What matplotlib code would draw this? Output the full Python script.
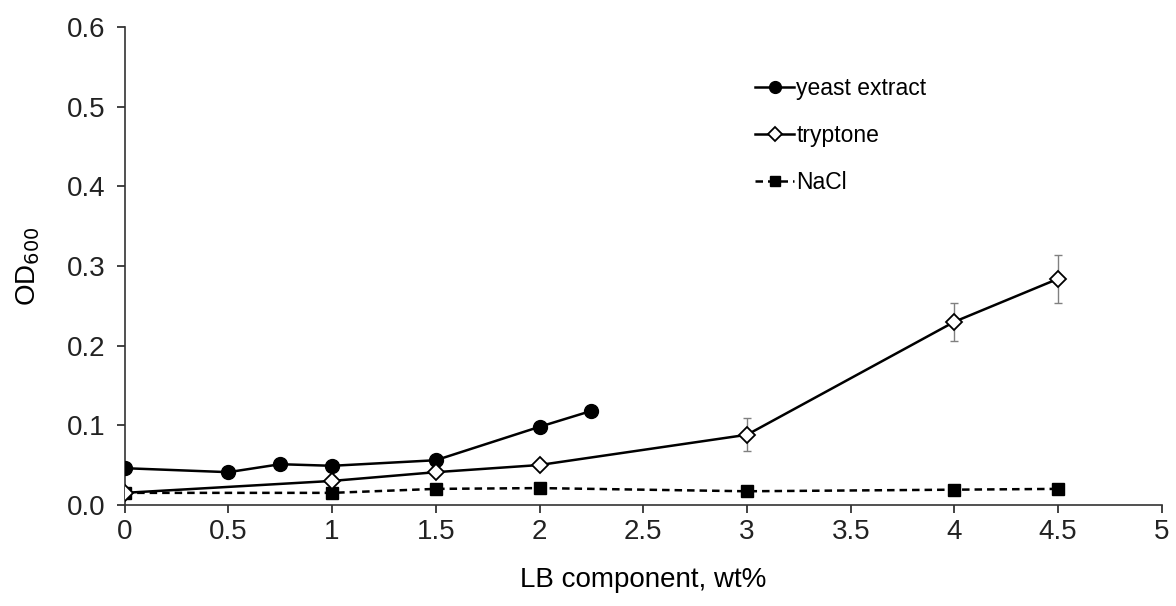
import numpy as np
import matplotlib.pyplot as plt

plt.rcParams['font.family'] = ['Liberation Sans', 'DejaVu Sans']

# data
yeast_x = [0, 0.5, 0.75, 1, 1.5, 2, 2.25]
yeast_y = [0.046, 0.041, 0.051, 0.049, 0.056, 0.098, 0.118]

tryp_x = [0, 1, 1.5, 2, 3, 4, 4.5]
tryp_y = [0.015, 0.030, 0.041, 0.050, 0.088, 0.230, 0.284]
tryp_err = [0, 0, 0, 0, 0.021, 0.024, 0.030]

nacl_x = [0, 1, 1.5, 2, 3, 4, 4.5]
nacl_y = [0.015, 0.015, 0.020, 0.021, 0.017, 0.019, 0.020]

fig = plt.figure(figsize=(11.76, 6.06), dpi=100)
ax = fig.add_axes([0.106, 0.167, 0.882, 0.788])

ax.errorbar(tryp_x, tryp_y, yerr=tryp_err, fmt='none', ecolor='#808080',
            elinewidth=1, capsize=3, capthick=1, zorder=1)
ax.plot(yeast_x, yeast_y, '-o', color='black', lw=1.8, ms=10,
        label='yeast extract', zorder=3)
ax.plot(tryp_x, tryp_y, '-D', color='black', mfc='white', mec='black',
        mew=1.3, lw=1.8, ms=8, label='tryptone', zorder=3)
ax.plot(nacl_x, nacl_y, '--s', color='black', lw=1.8, ms=8.5,
        dashes=(3, 2), label='NaCl', zorder=2)

ax.set_xlim(0, 5)
ax.set_ylim(0, 0.6)
ax.set_xticks(np.arange(0, 5.01, 0.5))
ax.set_xticklabels(['0', '0.5', '1', '1.5', '2', '2.5', '3', '3.5', '4', '4.5', '5'])
ax.set_yticks(np.arange(0, 0.61, 0.1))
ax.set_yticklabels(['0.0', '0.1', '0.2', '0.3', '0.4', '0.5', '0.6'])
ax.tick_params(labelsize=20, length=6, width=1.2, colors='#222222')
ax.tick_params(axis='x', pad=4)
ax.tick_params(axis='y', pad=8)
for s in ['top', 'right']:
    ax.spines[s].set_visible(False)
for s in ['left', 'bottom']:
    ax.spines[s].set_linewidth(1.2)
    ax.spines[s].set_color('#333333')

ax.set_xlabel('LB component, wt%', fontsize=20, labelpad=16)
ax.set_ylabel('OD$_{600}$', fontsize=20, labelpad=18)

ax.legend(loc='upper left', bbox_to_anchor=(0.588, 0.94), frameon=False,
          fontsize=16.5, handlelength=1.7, handletextpad=0.1,
          labelspacing=1.05, markerscale=0.85)

fig.savefig('out.png', dpi=100)
